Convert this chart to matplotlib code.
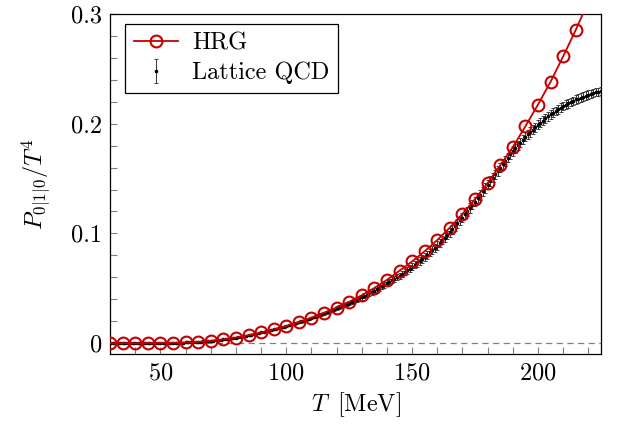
import matplotlib
matplotlib.use("Agg")
import matplotlib.pyplot as plt
import numpy as np

plt.rcParams['font.family'] = 'serif'
plt.rcParams['font.serif'] = ['cmr10']
plt.rcParams['mathtext.fontset'] = 'cm'
plt.rcParams['axes.unicode_minus'] = False
plt.rcParams['axes.formatter.use_mathtext'] = True

# HRG curve, one marker every 5 MeV
T_hrg = [30, 35, 40, 45, 50, 55, 60, 65, 70, 75, 80, 85, 90, 95, 100, 105,
         110, 115, 120, 125, 130, 135, 140, 145, 150, 155, 160, 165, 170,
         175, 180, 185, 190, 195, 200, 205, 210, 215, 220]
P_hrg = [0.0000, 0.0000, 0.0000, 0.0001, 0.0002, 0.0004, 0.0007, 0.0012,
         0.0022, 0.0035, 0.0052, 0.0073, 0.0098, 0.0126, 0.0157, 0.0192,
         0.0232, 0.0276, 0.0324, 0.0377, 0.0437, 0.0503, 0.0577, 0.0660,
         0.0745, 0.0838, 0.0940, 0.1053, 0.1177, 0.1313, 0.1458, 0.1622,
         0.1785, 0.1975, 0.2173, 0.2380, 0.2612, 0.2852, 0.3110]

# lattice QCD, 1 MeV steps from 30 to 225 MeV
T_lat = list(range(30, 226))
P_lat = [
    0.0000, 0.0000, 0.0000, 0.0000, 0.0000, 0.0000, 0.0000, 0.0000, 0.0000, 0.0000,
    0.0000, 0.0000, 0.0000, 0.0000, 0.0000, 0.0001, 0.0001, 0.0001, 0.0001, 0.0001,
    0.0002, 0.0002, 0.0002, 0.0003, 0.0003, 0.0004, 0.0004, 0.0005, 0.0005, 0.0006,
    0.0007, 0.0008, 0.0009, 0.0010, 0.0011, 0.0012, 0.0014, 0.0016, 0.0018, 0.0020,
    0.0022, 0.0024, 0.0027, 0.0030, 0.0032, 0.0035, 0.0038, 0.0041, 0.0045, 0.0048,
    0.0052, 0.0056, 0.0060, 0.0064, 0.0068, 0.0073, 0.0078, 0.0083, 0.0088, 0.0093,
    0.0098, 0.0103, 0.0109, 0.0114, 0.0120, 0.0126, 0.0132, 0.0138, 0.0144, 0.0150,
    0.0156, 0.0163, 0.0170, 0.0177, 0.0184, 0.0191, 0.0198, 0.0206, 0.0214, 0.0222,
    0.0230, 0.0238, 0.0246, 0.0255, 0.0264, 0.0273, 0.0282, 0.0291, 0.0300, 0.0309,
    0.0318, 0.0327, 0.0336, 0.0345, 0.0354, 0.0364, 0.0374, 0.0385, 0.0396, 0.0408,
    0.0420, 0.0431, 0.0442, 0.0454, 0.0466, 0.0480, 0.0492, 0.0505, 0.0518, 0.0531,
    0.0545, 0.0559, 0.0573, 0.0587, 0.0601, 0.0615, 0.0631, 0.0647, 0.0663, 0.0679,
    0.0695, 0.0713, 0.0731, 0.0749, 0.0767, 0.0785, 0.0806, 0.0827, 0.0848, 0.0869,
    0.0890, 0.0914, 0.0938, 0.0962, 0.0986, 0.1010, 0.1037, 0.1064, 0.1091, 0.1118,
    0.1145, 0.1174, 0.1203, 0.1232, 0.1261, 0.1290, 0.1321, 0.1352, 0.1383, 0.1414,
    0.1445, 0.1476, 0.1507, 0.1538, 0.1569, 0.1600, 0.1630, 0.1660, 0.1690, 0.1720,
    0.1750, 0.1776, 0.1802, 0.1828, 0.1854, 0.1880, 0.1902, 0.1924, 0.1946, 0.1968,
    0.1990, 0.2009, 0.2028, 0.2047, 0.2066, 0.2085, 0.2100, 0.2115, 0.2130, 0.2145,
    0.2160, 0.2172, 0.2184, 0.2196, 0.2208, 0.2220, 0.2229, 0.2238, 0.2247, 0.2256,
    0.2265, 0.2272, 0.2278, 0.2285, 0.2291, 0.2298]
E_lat = [
    0.0001, 0.0001, 0.0001, 0.0001, 0.0001, 0.0001, 0.0001, 0.0001, 0.0001, 0.0001,
    0.0001, 0.0001, 0.0001, 0.0001, 0.0001, 0.0001, 0.0001, 0.0001, 0.0001, 0.0001,
    0.0001, 0.0001, 0.0001, 0.0001, 0.0001, 0.0001, 0.0001, 0.0001, 0.0001, 0.0001,
    0.0002, 0.0002, 0.0002, 0.0002, 0.0002, 0.0002, 0.0002, 0.0002, 0.0002, 0.0002,
    0.0002, 0.0002, 0.0002, 0.0002, 0.0002, 0.0002, 0.0002, 0.0002, 0.0002, 0.0002,
    0.0003, 0.0003, 0.0003, 0.0003, 0.0003, 0.0003, 0.0003, 0.0003, 0.0003, 0.0003,
    0.0004, 0.0004, 0.0004, 0.0005, 0.0005, 0.0005, 0.0006, 0.0006, 0.0006, 0.0007,
    0.0007, 0.0007, 0.0008, 0.0008, 0.0009, 0.0009, 0.0010, 0.0010, 0.0011, 0.0011,
    0.0012, 0.0012, 0.0013, 0.0013, 0.0014, 0.0014, 0.0015, 0.0015, 0.0016, 0.0016,
    0.0017, 0.0017, 0.0018, 0.0018, 0.0019, 0.0019, 0.0020, 0.0020, 0.0021, 0.0021,
    0.0022, 0.0022, 0.0023, 0.0023, 0.0024, 0.0024, 0.0025, 0.0025, 0.0026, 0.0026,
    0.0027, 0.0027, 0.0028, 0.0028, 0.0029, 0.0029, 0.0030, 0.0030, 0.0031, 0.0031,
    0.0032, 0.0032, 0.0033, 0.0033, 0.0034, 0.0034, 0.0035, 0.0035, 0.0036, 0.0036,
    0.0037, 0.0037, 0.0038, 0.0038, 0.0039, 0.0039, 0.0040, 0.0040, 0.0040, 0.0041,
    0.0041, 0.0041, 0.0042, 0.0042, 0.0042, 0.0042, 0.0043, 0.0043, 0.0043, 0.0043,
    0.0043, 0.0043, 0.0043, 0.0043, 0.0043, 0.0043, 0.0043, 0.0043, 0.0043, 0.0043,
    0.0043, 0.0043, 0.0043, 0.0042, 0.0042, 0.0042, 0.0042, 0.0042, 0.0041, 0.0041,
    0.0041, 0.0041, 0.0041, 0.0040, 0.0040, 0.0040, 0.0040, 0.0040, 0.0039, 0.0039,
    0.0039, 0.0039, 0.0039, 0.0038, 0.0038, 0.0038, 0.0038, 0.0038, 0.0037, 0.0037,
    0.0037, 0.0037, 0.0037, 0.0036, 0.0036, 0.0036]

xticks = [50, 100, 150, 200]
yticks = [0, 0.1, 0.2, 0.3]
ytick_labels = ['0', '0.1', '0.2', '0.3']

RED = '#c40000'
FS = 17.5

fig = plt.figure(figsize=(6.22, 4.33), dpi=100)
ax = fig.add_axes([0.177, 0.182, 0.789, 0.786])

ax.axhline(0, color='0.5', lw=0.9, ls=(0, (5, 3.5)), zorder=1)

lat = ax.errorbar(T_lat, P_lat, yerr=E_lat, fmt='.', color='black', ms=3.2,
                  ecolor='0.25', elinewidth=0.75, capsize=1.3, capthick=0.7,
                  zorder=2)
hrg, = ax.plot(T_hrg, P_hrg, '-o', color=RED, lw=1.3, ms=8.5, mfc='none',
               mew=1.5, zorder=3)

ax.set_xlim(30, 225)
ax.set_ylim(-0.01, 0.3)
ax.set_xticks(xticks)
ax.set_xticks(np.arange(30, 226, 10), minor=True)
ax.set_yticks(yticks, labels=ytick_labels)
ax.set_yticks(np.arange(0, 0.301, 0.02), minor=True)
ax.tick_params(which='both', direction='in', color='0.5', labelsize=FS,
               top=False, right=False)
ax.tick_params(which='major', length=5, width=0.8, pad=6)
ax.tick_params(which='minor', length=5, width=0.8)
for s in ax.spines.values():
    s.set_linewidth(0.9)

ax.set_xlabel('$T\\;\\;$[MeV]', fontsize=FS, labelpad=4)
ax.set_ylabel('$P_{0|1|0}/T^4$', fontsize=FS, labelpad=13)

leg = ax.legend([hrg, lat], ['HRG', 'Lattice QCD'], loc='upper left',
                fontsize=FS, frameon=True, fancybox=False, edgecolor='black',
                framealpha=1, borderpad=0.35, labelspacing=0.3,
                handlelength=1.8, handletextpad=0.6, borderaxespad=0,
                bbox_to_anchor=(0.031, 0.97))
leg.get_frame().set_linewidth(0.9)

fig.savefig('out.png', dpi=100)
